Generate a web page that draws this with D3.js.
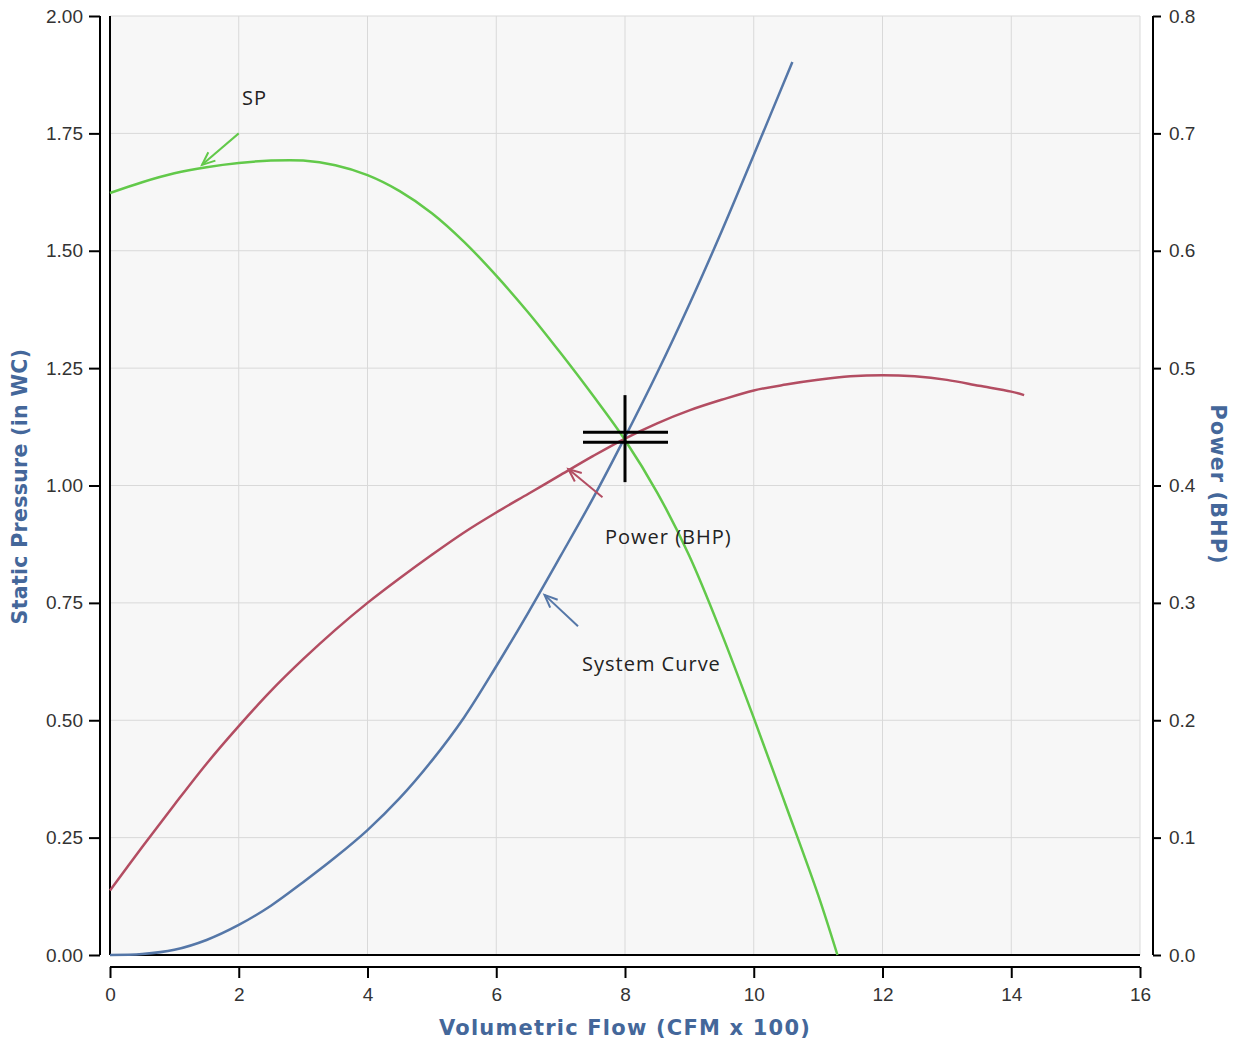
<!DOCTYPE html>
<html>
<head>
<meta charset="utf-8">
<script src="https://cdn.jsdelivr.net/npm/d3@7"></script>
<style>
body { margin: 0; background: #fff; }
</style>
</head>
<body>
<svg id="chart"></svg>
<script>
// flow values (CFM x 100)
let spFlow = [0, 0.5, 1, 1.5, 2, 2.5, 3, 3.5, 4, 4.5, 5, 5.5, 6, 6.5, 7, 7.5, 8, 8.5, 9, 9.5, 10, 10.5, 11, 11.3];
let spValues = [1.623, 1.646, 1.665, 1.678, 1.687, 1.692, 1.692, 1.682, 1.661, 1.627, 1.580, 1.519, 1.447, 1.368, 1.282, 1.192, 1.097, 0.985, 0.850, 0.685, 0.505, 0.318, 0.128, 0.0];

let sysFlow = [0, 0.5, 1, 1.5, 2, 2.5, 3, 3.5, 4, 4.5, 5, 5.5, 6, 6.5, 7, 7.5, 8, 8.5, 9, 9.5, 10, 10.6];
let sysValues = [0, 0.002, 0.011, 0.032, 0.064, 0.105, 0.155, 0.208, 0.266, 0.334, 0.414, 0.506, 0.615, 0.730, 0.850, 0.972, 1.103, 1.240, 1.386, 1.541, 1.704, 1.902];

let powFlow = [0, 0.5, 1, 1.5, 2, 2.5, 3, 3.5, 4, 4.5, 5, 5.5, 6, 6.5, 7, 7.5, 8, 8.5, 9, 9.5, 10, 10.5, 11, 11.5, 12, 12.5, 13, 13.5, 14, 14.2];
let powValues = [0.055, 0.092, 0.128, 0.163, 0.195, 0.225, 0.252, 0.277, 0.300, 0.321, 0.341, 0.360, 0.377, 0.393, 0.409, 0.425, 0.440, 0.453, 0.464, 0.473, 0.481, 0.486, 0.490, 0.493, 0.494, 0.493, 0.490, 0.485, 0.480, 0.477];

let xTicks = [0, 2, 4, 6, 8, 10, 12, 14, 16];
let yTicks = [0, 0.25, 0.5, 0.75, 1.0, 1.25, 1.5, 1.75, 2.0];
let y2Ticks = [0, 0.1, 0.2, 0.3, 0.4, 0.5, 0.6, 0.7, 0.8];

// operating point
let opFlow = 8;
let opPressure = 1.103;

let width = 1241;
let height = 1043;
let pLeft = 110, pRight = 1140, pTop = 16, pBottom = 955;

let svg = d3.select("#chart").attr("width", width).attr("height", height);

let xScale = d3.scaleLinear().domain([0, 16]).range([pLeft, pRight]);
let yScale = d3.scaleLinear().domain([0, 2]).range([pBottom, pTop]);
let y2Scale = d3.scaleLinear().domain([0, 0.8]).range([pBottom, pTop]);

let green = "#62c94a", blue = "#5577a8", red = "#b34d62", titleColor = "#44679a";

// plot background
svg.append("rect")
    .attr("x", pLeft).attr("y", pTop)
    .attr("width", pRight - pLeft).attr("height", pBottom - pTop)
    .attr("fill", "#f7f7f7");

// grid
let grid = svg.append("g").attr("stroke", "#d9d9d9").attr("stroke-width", 1);
grid.selectAll(".vx").data(xTicks.slice(1)).enter().append("line")
    .attr("x1", d => xScale(d)).attr("x2", d => xScale(d))
    .attr("y1", pTop).attr("y2", pBottom);
grid.selectAll(".hy").data(yTicks.slice(1)).enter().append("line")
    .attr("x1", pLeft).attr("x2", pRight)
    .attr("y1", d => yScale(d)).attr("y2", d => yScale(d));

// plot frame (left + bottom)
svg.append("line").attr("x1", pLeft).attr("x2", pLeft).attr("y1", pTop).attr("y2", pBottom)
    .attr("stroke", "#000").attr("stroke-width", 2);
svg.append("line").attr("x1", pLeft).attr("x2", pRight).attr("y1", pBottom).attr("y2", pBottom)
    .attr("stroke", "#000").attr("stroke-width", 2);

// axes
let styleAxis = g => {
    g.selectAll("path").attr("stroke", "#000").attr("stroke-width", 2);
    g.selectAll("line").attr("stroke", "#000").attr("stroke-width", 2);
    g.selectAll("text").style("font-family", "'Liberation Sans', Arial, sans-serif")
        .attr("font-size", 19).attr("fill", "#333");
};

svg.append("g")
    .attr("transform", "translate(0," + (pBottom + 12) + ")")
    .call(d3.axisBottom(xScale).tickValues(xTicks).tickFormat(d3.format("d")).tickSize(11).tickSizeOuter(0).tickPadding(10))
    .call(styleAxis)
    .call(g => g.select(".domain").attr("d", "M" + pLeft + ",0H" + pRight));

svg.append("g")
    .attr("transform", "translate(" + (pLeft - 10) + ",0)")
    .call(d3.axisLeft(yScale).tickValues(yTicks).tickFormat(d3.format(".2f")).tickSize(11).tickSizeOuter(0).tickPadding(6))
    .call(styleAxis)
    .call(g => g.select(".domain").attr("d", "M0," + pTop + "V" + pBottom));

svg.append("g")
    .attr("transform", "translate(" + (pRight + 13) + ",0)")
    .call(d3.axisRight(y2Scale).tickValues(y2Ticks).tickFormat(d3.format(".1f")).tickSize(8).tickSizeOuter(0).tickPadding(8))
    .call(styleAxis)
    .call(g => g.select(".domain").attr("d", "M0," + pTop + "V" + pBottom));

// axis titles
let titleFont = "'DejaVu Sans', Verdana, sans-serif";
svg.append("text")
    .attr("transform", "translate(27," + ((pTop + pBottom) / 2 + 1) + ") rotate(-90)")
    .attr("text-anchor", "middle")
    .style("font-family", titleFont).attr("font-weight", "bold").attr("font-size", 20.5)
    .style("letter-spacing", "0.3px")
    .attr("fill", titleColor)
    .text("Static Pressure (in WC)");
svg.append("text")
    .attr("x", (pLeft + pRight) / 2).attr("y", 1035)
    .attr("text-anchor", "middle")
    .style("font-family", titleFont).attr("font-weight", "bold").attr("font-size", 21)
    .style("letter-spacing", "1.2px")
    .attr("fill", titleColor)
    .text("Volumetric Flow (CFM x 100)");
svg.append("text")
    .attr("transform", "translate(1211," + ((pTop + pBottom) / 2 - 1) + ") rotate(90)")
    .attr("text-anchor", "middle")
    .style("font-family", titleFont).attr("font-weight", "bold").attr("font-size", 21)
    .style("letter-spacing", "1px")
    .attr("fill", titleColor)
    .text("Power (BHP)");

// curves
let lineLeft = d3.line().x(d => xScale(d[0])).y(d => yScale(d[1])).curve(d3.curveCatmullRom);
let lineRight = d3.line().x(d => xScale(d[0])).y(d => y2Scale(d[1])).curve(d3.curveCatmullRom);

svg.append("path")
    .attr("d", lineLeft(d3.zip(sysFlow, sysValues)))
    .attr("fill", "none").attr("stroke", blue).attr("stroke-width", 2.5);
svg.append("path")
    .attr("d", lineRight(d3.zip(powFlow, powValues)))
    .attr("fill", "none").attr("stroke", red).attr("stroke-width", 2.5);
svg.append("path")
    .attr("d", lineLeft(d3.zip(spFlow, spValues)))
    .attr("fill", "none").attr("stroke", green).attr("stroke-width", 2.5);

// annotations: label text + arrow pointing to the curve
let annotations = [
    { label: "SP", tx: 242, ty: 105, from: [2.0, 1.75], to: [1.43, 1.683], color: green, axis: "left" },
    { label: "Power (BHP)", tx: 605, ty: 544, from: [7.65, 0.39], to: [7.12, 0.414], color: red, axis: "right" },
    { label: "System Curve", tx: 582, ty: 671, from: [7.27, 0.70], to: [6.75, 0.767], color: blue, axis: "left" }
];

annotations.forEach(a => {
    let ys = a.axis === "left" ? yScale : y2Scale;
    let x1 = xScale(a.from[0]), y1 = ys(a.from[1]);
    let x2 = xScale(a.to[0]), y2 = ys(a.to[1]);
    let ang = Math.atan2(y2 - y1, x2 - x1);
    let head = 14, spread = 0.4;
    svg.append("line").attr("x1", x1).attr("y1", y1).attr("x2", x2).attr("y2", y2)
        .attr("stroke", a.color).attr("stroke-width", 2);
    svg.append("path")
        .attr("d", "M" + (x2 - head * Math.cos(ang - spread)) + "," + (y2 - head * Math.sin(ang - spread)) +
            "L" + x2 + "," + y2 +
            "L" + (x2 - head * Math.cos(ang + spread)) + "," + (y2 - head * Math.sin(ang + spread)))
        .attr("fill", "none").attr("stroke", a.color).attr("stroke-width", 2);
    svg.append("text")
        .attr("x", a.tx).attr("y", a.ty)
        .style("font-family", "'Open Sans', 'Noto Sans', sans-serif").attr("font-size", 20)
        .style("letter-spacing", "1px")
        .attr("fill", "#222")
        .text(a.label);
});

// operating point crosshair
let cx = xScale(opFlow), cy = yScale(opPressure);
let cross = svg.append("g").attr("stroke", "#000").attr("stroke-width", 3);
cross.append("line").attr("x1", cx).attr("x2", cx).attr("y1", cy - 42).attr("y2", cy + 45);
cross.append("line").attr("x1", cx - 42).attr("x2", cx + 43).attr("y1", cy - 5).attr("y2", cy - 5);
cross.append("line").attr("x1", cx - 42).attr("x2", cx + 43).attr("y1", cy + 5).attr("y2", cy + 5);
</script>
</body>
</html>
